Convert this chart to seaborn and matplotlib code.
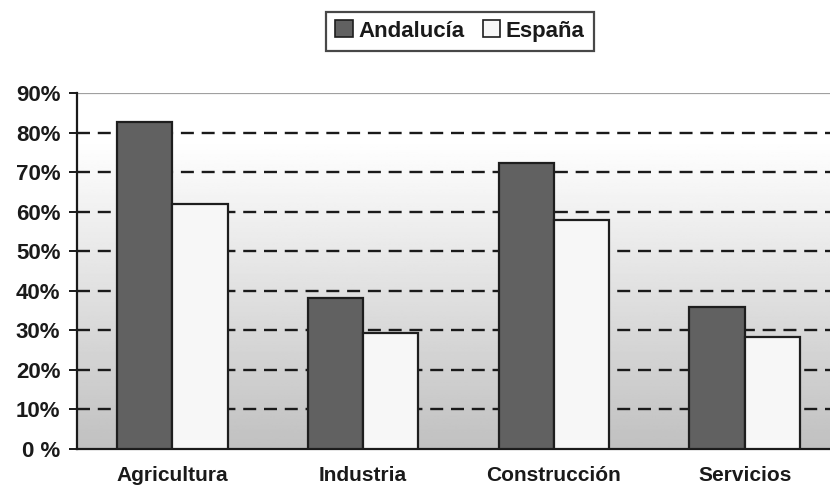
import numpy as np
import pandas as pd
import matplotlib
matplotlib.use("Agg")
import matplotlib.pyplot as plt
from matplotlib.patches import Patch
import seaborn as sns

# Sector shares (%) for Andalucía and España
categories = ["Agricultura", "Industria", "Construcción", "Servicios"]
andalucia = [82.7, 38.1, 72.4, 35.9]
espana = [61.9, 29.2, 58.0, 28.3]
series = ["Andalucía", "España"]
ytick_values = [0, 10, 20, 30, 40, 50, 60, 70, 80, 90]
ytick_labels = ["0 %", "10%", "20%", "30%", "40%", "50%", "60%", "70%", "80%", "90%"]

df = pd.DataFrame({
    "sector": categories * 2,
    "serie": [series[0]] * len(categories) + [series[1]] * len(categories),
    "valor": andalucia + espana,
})

sns.set_theme(style="white")
plt.rcParams["font.family"] = ["Liberation Sans", "DejaVu Sans"]
plt.rcParams["font.weight"] = "bold"

fig = plt.figure(figsize=(8.3, 4.86), dpi=100)
ax = fig.add_axes([77 / 830, 1 - 449 / 486, (840 - 77) / 830, (449 - 93) / 486])

colors = {"Andalucía": "#616161", "España": "#f7f7f7"}
sns.barplot(data=df, x="sector", y="valor", hue="serie", order=categories,
            hue_order=series, palette=colors, width=0.58, edgecolor="#1e1e1e",
            linewidth=1.6, saturation=1, legend=False, ax=ax, zorder=3)

ax.set_xlim(-0.5, len(categories) - 0.5)
ax.set_ylim(0, 90)

# Vertical gradient background: white near the top fading to grey at the base
yy = np.linspace(0, 90, 256)
shade = np.clip(0.755 + (1.0 - 0.755) * yy / 78.0, 0, 1)
grad = np.repeat(shade[:, None], 2, axis=1)
ax.imshow(grad, extent=(-0.5, len(categories) - 0.5, 0, 90), origin="lower",
          cmap="gray", vmin=0, vmax=1, aspect="auto", zorder=0)

# Dashed reference lines
for v in ytick_values[1:-1]:
    ax.axhline(v, color="#1a1a1a", lw=1.7, ls=(0, (5.5, 3.3)), zorder=1)
ax.axhline(90, color="#a0a0a0", lw=1.6, zorder=1)

fs = 16
ax.set_yticks(ytick_values)
ax.set_yticklabels(ytick_labels, fontsize=fs, fontweight="bold", color="#1a1a1a")
ax.set_xticks(range(len(categories)))
ax.set_xticklabels(categories, fontsize=15, fontweight="bold", color="#1a1a1a")
ax.set_xticks(np.arange(-0.5, len(categories) - 0.5, 1.0), minor=True)
ax.tick_params(axis="x", which="major", length=0, pad=12)
ax.tick_params(axis="x", which="minor", length=6, width=1.4, color="#1a1a1a", direction="out")
ax.tick_params(axis="y", length=6, width=1.4, color="#1a1a1a", direction="out", left=True, pad=6)
ax.set_xlabel("")
ax.set_ylabel("")

for side in ["top", "right"]:
    ax.spines[side].set_visible(False)
for side in ["left", "bottom"]:
    ax.spines[side].set_color("#1a1a1a")
    ax.spines[side].set_linewidth(1.6)

handles = [Patch(facecolor=colors[s], edgecolor="#1e1e1e", linewidth=1.2, label=s) for s in series]
leg = fig.legend(handles=handles, loc="center", bbox_to_anchor=(460 / 830, 1 - 31 / 486),
                 ncol=2, frameon=True, fancybox=False, handlelength=0.8, handleheight=0.8,
                 handletextpad=0.25, columnspacing=0.8, borderpad=0.4,
                 prop={"size": fs, "weight": "bold"})
leg.get_frame().set_edgecolor("#1a1a1a")
leg.get_frame().set_linewidth(1.6)
for t in leg.get_texts():
    t.set_color("#1a1a1a")

fig.savefig("out.png", dpi=100)
